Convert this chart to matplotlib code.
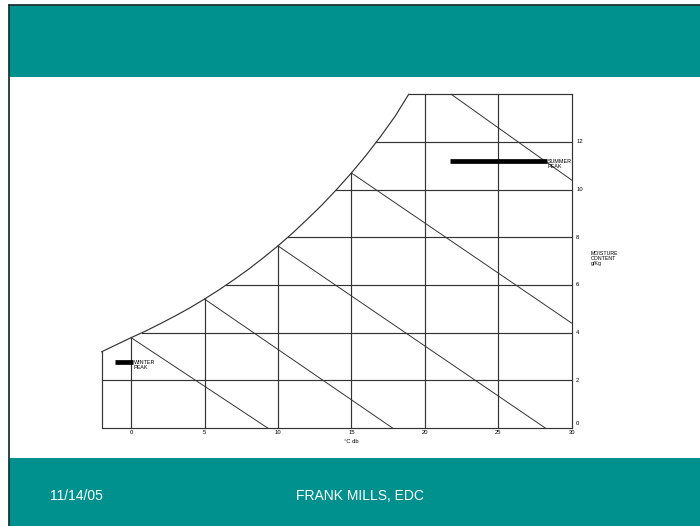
import numpy as np
import matplotlib
matplotlib.use("Agg")
import matplotlib.pyplot as plt
from matplotlib.patches import Rectangle
from matplotlib.lines import Line2D

plt.rcParams['font.family'] = ['Liberation Sans', 'DejaVu Sans']

# Saturation curve (dry-bulb °C, moisture content g/kg)
sat_T = [-2, 0, 1, 2, 3, 4, 5, 6, 7, 8, 9, 10, 11, 12, 13, 14, 15, 16, 17, 18, 18.9]
sat_w = [3.2, 3.79, 4.07, 4.38, 4.70, 5.04, 5.41, 5.80, 6.22, 6.66, 7.14, 7.64, 8.18,
         8.76, 9.36, 10.01, 10.70, 11.44, 12.24, 13.10, 14.0]

# Constant dry-bulb and moisture grid lines
db_lines = [-2, 0, 5, 10, 15, 20, 25, 30]
mc_lines = [0, 2, 4, 6, 8, 10, 12, 14]

# Wet-bulb lines: start on saturation curve, end on chart boundary
wb_start_T = [0, 5, 10, 15, 21.8]
wb_start_w = [3.79, 5.41, 7.64, 10.70, 14.0]
wb_end_T = [9.3, 17.8, 28.2, 30, 30]
wb_end_w = [0, 0, 0, 4.4, 10.4]

# Design peaks
summer_T = [21.7, 28.3]
summer_w = 11.2
winter_T = [-1.1, 0.15]
winter_w = 2.75

x_ticks = [0, 5, 10, 15, 20, 25, 30]
y_ticks = [0, 2, 4, 6, 8, 10, 12]

W, H = 700, 526
teal = '#00918F'
edge = '#1c3434'
ink = '#333333'

fig = plt.figure(figsize=(W / 100, H / 100), dpi=100)
fig.patch.set_facecolor('white')


def fx(px):
    return px / W


def fy(py):
    return (H - py) / H


# slide bands
fig.patches.append(Rectangle((fx(9), fy(77)), fx(W - 9), 72 / H, transform=fig.transFigure,
                             facecolor=teal, edgecolor='none', zorder=0))
fig.patches.append(Rectangle((fx(9), 0), fx(W - 9), fy(458), transform=fig.transFigure,
                             facecolor=teal, edgecolor='none', zorder=0))
fig.lines.append(Line2D([fx(8.5), 1], [fy(4.8), fy(4.8)], transform=fig.transFigure,
                        color=edge, lw=1.3))
fig.lines.append(Line2D([fx(8.5), fx(8.5)], [fy(4.8), 0], transform=fig.transFigure,
                        color=edge, lw=1.3))

fig.text(fx(50), fy(496), '11/14/05', color='white', fontsize=10, va='center', ha='left')
fig.text(fx(296), fy(496), 'FRANK MILLS, EDC', color='white', fontsize=10, va='center', ha='left')

# chart axes
x0, x1 = 101.7, 571.7
y0, y1 = 428.0, 94.3
ax = fig.add_axes([fx(x0), fy(y0), (x1 - x0) / W, (y0 - y1) / H])
ax.set_xlim(-2, 30)
ax.set_ylim(0, 14)
ax.axis('off')

lw = 0.85
# saturation curve
ax.plot(sat_T, sat_w, color=ink, lw=lw, clip_on=False, solid_joinstyle='round')

# dry-bulb verticals up to the saturation curve
for t in db_lines:
    top = float(np.interp(t, sat_T, sat_w))
    ax.plot([t, t], [0, top], color=ink, lw=lw, clip_on=False)

# moisture horizontals from the saturation curve
for w in mc_lines:
    start = float(np.interp(w, sat_w, sat_T))
    ax.plot([start, 30], [w, w], color=ink, lw=lw, clip_on=False)

# wet-bulb lines
for ts, ws, te, we in zip(wb_start_T, wb_start_w, wb_end_T, wb_end_w):
    ax.plot([ts, te], [ws, we], color=ink, lw=0.7, clip_on=False)

# peak bars
ax.plot(summer_T, [summer_w, summer_w], color='black', lw=3.4, solid_capstyle='butt')
ax.plot(winter_T, [winter_w, winter_w], color='black', lw=3.4, solid_capstyle='butt')
ax.annotate('SUMMER\nPEAK', (summer_T[1], summer_w), xytext=(0.5, 1.6), textcoords='offset points',
            fontsize=3.9, ha='left', va='top', linespacing=1.0)
ax.annotate('WINTER\nPEAK', (winter_T[1], winter_w), xytext=(0.5, 1.6), textcoords='offset points',
            fontsize=3.9, ha='left', va='top', linespacing=1.0)

# tick labels
for t in x_ticks:
    ax.annotate(str(t), (t, 0), xytext=(0, -3.6), textcoords='offset points',
                fontsize=4.2, ha='center', va='center')
ax.annotate('°C db', (15, 0), xytext=(0, -9.5), textcoords='offset points',
            fontsize=4.2, ha='center', va='center')
for w in y_ticks:
    dy = 3.0 if w == 0 else 0
    ax.annotate(str(w), (30, w), xytext=(3.2, dy), textcoords='offset points',
                fontsize=4.2, ha='left', va='center')
ax.annotate('MOISTURE\nCONTENT\ng/Kg', (30, 7), xytext=(13.8, 2.2), textcoords='offset points',
            fontsize=3.8, ha='left', va='center', linespacing=1.0)

fig.savefig('out.png', dpi=100)
